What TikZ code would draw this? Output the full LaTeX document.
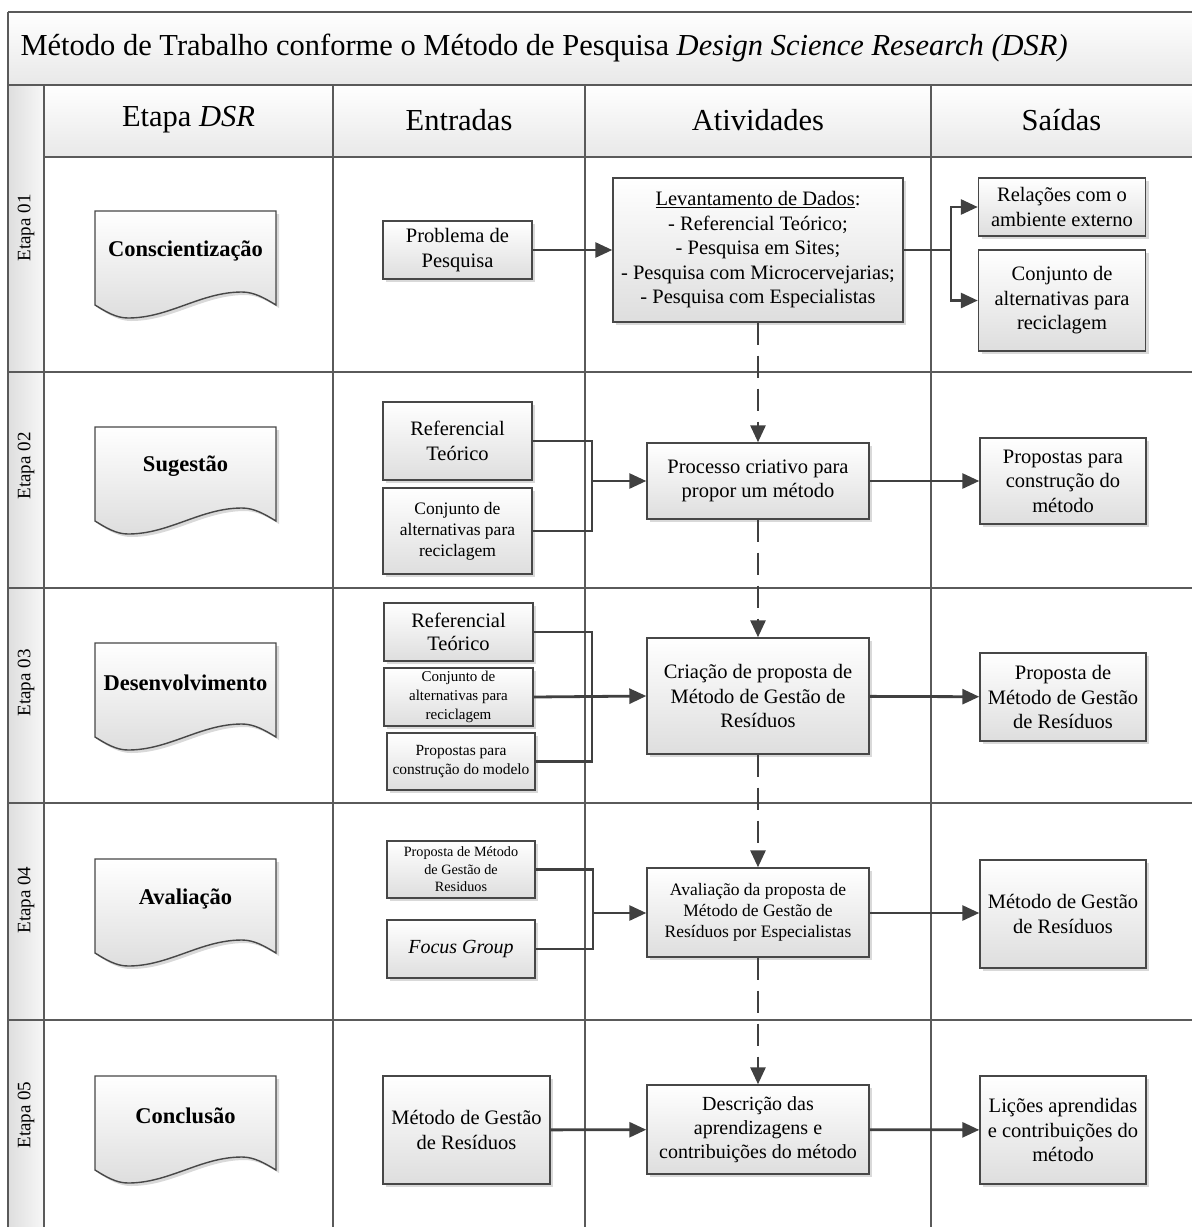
\documentclass[tikz,border=0pt]{standalone}
\usepackage{fontspec}
\setmainfont{Liberation Serif}
\usetikzlibrary{arrows.meta,shadows}

\definecolor{gridline}{HTML}{5A5A5A}
\definecolor{boxline}{HTML}{474747}
\definecolor{wire}{HTML}{404040}

\newcommand\fsz[2]{\fontsize{#1pt}{#2pt}\selectfont}

\tikzset{
  grid/.style={draw=gridline, line width=1.3pt},
  band/.style={top color=white, bottom color=black!9},
  box/.style={draw=boxline, line width=1.4pt, top color=white, bottom color=black!13,
    drop shadow={shadow xshift=3pt, shadow yshift=-3pt, fill=black!25, opacity=.6},
    align=center, inner sep=0pt},
  docfill/.style={draw=boxline, line width=1.4pt, top color=white, bottom color=black!13,
    drop shadow={shadow xshift=3pt, shadow yshift=-3pt, fill=black!25, opacity=.6}},
  doctext/.style={font=\fsz{22.5}{26}\bfseries},
  lane/.style={rotate=90, font=\fsz{19}{22}},
  head/.style={font=\fsz{30.5}{34}},
  tx/.style={font=\fsz{20.5}{24.5}},
  flow/.style={draw=wire, line width=2.8pt, -{Triangle[length=17pt,width=15pt]}},
  plain/.style={draw=wire, line width=2.8pt},
  phase/.style={draw=wire, line width=2.8pt, dash pattern=on 22pt off 11pt,
    -{Triangle[length=17pt,width=15pt]}},
}

% document (flowchart) shape: top-left at (95,#2)
\newcommand\docshape[3]{%
  \begin{scope}[shift={(95,#2)}]
    \path[docfill] (0,0) -- (0,94) sin (33,107) cos (90,94) sin (147,81) cos (181,94)
      -- (181,0) -- cycle;
    \node[doctext] (#1) at (90.5,39.5) {#3};
  \end{scope}}

\begin{document}
\begin{tikzpicture}[x=1pt,y=-1pt]
\useasboundingbox (0,0) rectangle (1192,1227);

% shaded bands of the table
\path[band] (8,12) rectangle (1192,85);
\path[band] (44,85) rectangle (1192,157);
\path[left color=black!13, right color=black!3] (8,85) rectangle (44,1227);

% table rules
\draw[grid] (8,12) -- (1192,12);
\draw[grid] (8,12) -- (8,1227);
\draw[grid] (8,85) -- (1192,85);
\draw[grid] (44,157) -- (1192,157);
\foreach \yy in {372,588,803,1020} \draw[grid] (8,\yy) -- (1192,\yy);
\foreach \xx in {44,333,585,931} \draw[grid] (\xx,85) -- (\xx,1227);

% title and column headings
\node[anchor=west, head] (title) at (17,48)
  {Método de Trabalho conforme o Método de Pesquisa \textit{Design Science Research (DSR)}};
\node[head] (hEtapa) at (188.5,120) {Etapa \textit{DSR}};
\node[head] (hEntr) at (459,120) {Entradas};
\node[head] (hAtiv) at (758,120) {Atividades};
\node[head] (hSaid) at (1061.5,120) {Saídas};

% lane labels
\node[lane] (lane1) at (26,228) {Etapa 01};
\node[lane] (lane2) at (26,466) {Etapa 02};
\node[lane] (lane3) at (26,683) {Etapa 03};
\node[lane] (lane4) at (26,900) {Etapa 04};
\node[lane] (lane5) at (26,1115) {Etapa 05};

% DSR stages
\docshape{d1}{211}{Conscientização}
\docshape{d2}{427}{Sugestão}
\docshape{d3}{643}{Desenvolvimento}
\docshape{d4}{859}{Avaliação}
\docshape{d5}{1076}{Conclusão}

% ---- stage 01
\node[box, tx, minimum width=149pt, minimum height=58pt] (prob) at (457.5,250) {Problema de\\Pesquisa};
\node[box, tx, minimum width=290pt, minimum height=144pt] (lev) at (758,250)
  {\underline{Levantamento de Dados}:\\- Referencial Teórico;\\- Pesquisa em Sites;\\- Pesquisa com Microcervejarias;\\- Pesquisa com Especialistas};
\node[box, tx, minimum width=167pt, minimum height=58pt] (rel) at (1062,207) {Relações com o\\ambiente externo};
\node[box, tx, minimum width=167pt, minimum height=101pt] (alt1) at (1062,300.5) {Conjunto de\\alternativas para\\reciclagem};
\coordinate (j1) at (951,250);
\draw[flow] (prob) -- (lev);
\draw[plain] (lev.east) -- (j1);
\draw[flow] (j1) |- (rel.west);
\draw[flow] (j1) |- (alt1.west);

% ---- stage 02
\node[box, tx, minimum width=149pt, minimum height=78pt] (ref2) at (457.5,441) {Referencial\\Teórico};
\node[box, font=\fsz{17.5}{21}, minimum width=149pt, minimum height=86pt] (alt2) at (457.5,531) {Conjunto de\\alternativas para\\reciclagem};
\node[box, tx, minimum width=222pt, minimum height=76pt] (proc) at (758,481) {Processo criativo para\\propor um método};
\node[box, tx, minimum width=166pt, minimum height=86pt] (prop2) at (1063,481) {Propostas para\\construção do\\método};
\coordinate (j2) at (592,481);
\draw[plain] (ref2.east) -| (j2);
\draw[plain] (alt2.east) -| (j2);
\draw[flow] (j2) -- (proc);
\draw[flow] (proc) -- (prop2);

% ---- stage 03
\node[box, tx, font=\fsz{20.5}{23}, minimum width=149pt, minimum height=58pt] (ref3) at (458.5,632) {Referencial\\Teórico};
\node[box, font=\fsz{15}{19}, minimum width=149pt, minimum height=58pt] (alt3) at (458.5,697) {Conjunto de\\alternativas para\\reciclagem};
\node[box, font=\fsz{15.5}{18.5}, minimum width=148pt, minimum height=57pt] (mod3) at (461,761.5) {Propostas para\\construção do modelo};
\node[box, tx, minimum width=222pt, minimum height=116pt] (cri) at (758,696) {Criação de proposta de\\Método de Gestão de\\Resíduos};
\node[box, tx, minimum width=166pt, minimum height=88pt] (prop3) at (1063,697) {Proposta de\\Método de Gestão\\de Resíduos};
\coordinate (j3) at (592,697);
\draw[plain] (ref3.east) -| (j3);
\draw[plain] (mod3.east) -| (j3);
\draw[flow] (alt3.east) -- (cri.west);
\draw[flow] (cri) -- (prop3);

% ---- stage 04
\node[box, font=\fsz{14.2}{17.5}, minimum width=148pt, minimum height=57pt] (prop4) at (461,869.5) {Proposta de Método\\de Gestão de\\Residuos};
\node[box, font=\fsz{20}{24}\itshape, minimum width=148pt, minimum height=58pt] (focus) at (461,949) {Focus Group};
\node[box, font=\fsz{17.5}{21}, minimum width=222pt, minimum height=89pt] (aval) at (758,912.5) {Avaliação da proposta de\\Método de Gestão de\\Resíduos por Especialistas};
\node[box, tx, minimum width=166pt, minimum height=108pt] (met4) at (1063,914) {Método de Gestão\\de Resíduos};
\coordinate (j4) at (593,913);
\draw[plain] (prop4.east) -| (j4);
\draw[plain] (focus.east) -| (j4);
\draw[flow] (j4) -- (aval.west |- j4);
\draw[flow] (aval.east |- j4) -- (met4.west |- j4);

% ---- stage 05
\node[box, tx, minimum width=167pt, minimum height=108pt] (met5) at (466.5,1130) {Método de Gestão\\de Resíduos};
\node[box, font=\fsz{20}{24}, minimum width=222pt, minimum height=89pt] (desc) at (758,1129.5) {Descrição das\\aprendizagens e\\contribuições do método};
\node[box, tx, minimum width=166pt, minimum height=108pt] (lic) at (1063,1130) {Lições aprendidas\\e contribuições do\\método};
\draw[flow] (met5) -- (desc);
\draw[flow] (desc) -- (lic);

% phase sequence
\draw[phase] (lev.south) -- (proc.north);
\draw[phase] (proc.south) -- (cri.north);
\draw[phase] (cri.south) -- (aval.north);
\draw[phase] (aval.south) -- (desc.north);
\end{tikzpicture}
\end{document}
